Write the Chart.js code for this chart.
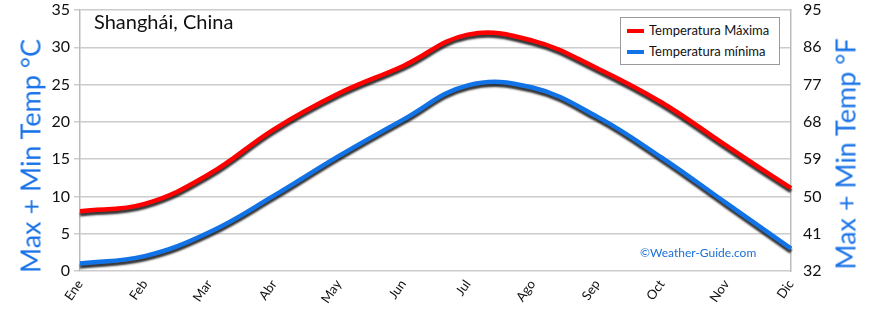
<!DOCTYPE html>
<html>
<head>
<meta charset="utf-8">
<script src="https://cdn.jsdelivr.net/npm/chart.js@4.4.0/dist/chart.umd.min.js"></script>
<style>
  body { margin: 0; background: #fff; }
  #wrap { position: relative; width: 870px; height: 312px; font-family: Lato, "Open Sans", sans-serif; }
  #titulo { position: absolute; left: 94px; top: 9px; font-size: 20px; color: #111; }
  #leyenda { position: absolute; left: 620px; top: 17px; width: 158px; height: 46px; border: 1px solid #999; background: #fff; font-size: 13px; color: #111; }
  #leyenda div { position: absolute; left: 6px; white-space: nowrap; }
  #leyenda span.linea { display: inline-block; width: 17px; height: 4px; margin-right: 5px; vertical-align: middle; position: relative; top: -1px; }
  #marca { position: absolute; left: 640px; top: 245px; font-size: 12px; color: #1a6fd8; }
  .ejeTit { position: absolute; font-size: 27px; color: #1a73e8; white-space: nowrap; transform: translate(-50%, -50%) rotate(-90deg); }
</style>
</head>
<body>
<div id="wrap">
  <canvas id="grafico" width="870" height="312"></canvas>
  <div id="titulo">Shanghái, China</div>
  <div id="leyenda">
    <div style="top:4px"><span class="linea" style="background:#ff0000"></span>Temperatura Máxima</div>
    <div style="top:25px"><span class="linea" style="background:#1273e6"></span>Temperatura mínima</div>
  </div>
  <div id="marca">©Weather-Guide.com</div>
  <div class="ejeTit" style="left:30px; top:156px">Max + Min Temp °C</div>
  <div class="ejeTit" style="left:845px; top:154px">Max + Min Temp °F</div>
</div>
<script>
const meses = ['Ene', 'Feb', 'Mar', 'Abr', 'May', 'Jun', 'Jul', 'Ago', 'Sep', 'Oct', 'Nov', 'Dic'];
const tempMax = [8.0, 9.0, 13.0, 19.0, 23.8, 27.5, 31.7, 30.9, 27.2, 22.6, 16.8, 11.1];
const tempMin = [1.0, 2.0, 5.2, 10.1, 15.4, 20.3, 24.9, 24.6, 20.7, 15.2, 9.1, 3.0];
const ticksC = [0, 5, 10, 15, 20, 25, 30, 35];
const ticksF = [32, 41, 50, 59, 68, 77, 86, 95];

// sombra oscura bajo cada línea
const sombra = {
    id: 'sombra',
    beforeDatasetDraw(chart) {
        const ctx = chart.ctx;
        ctx.save();
        ctx.shadowColor = 'rgba(0,0,0,0.8)';
        ctx.shadowBlur = 2;
        ctx.shadowOffsetX = 0;
        ctx.shadowOffsetY = 3;
    },
    afterDatasetDraw(chart) {
        chart.ctx.restore();
    }
};

// ancho fijo de eje y sin relleno vertical automático
const ajustarEje = ancho => s => {
    s.width = ancho;
    s.paddingTop = 0;
    s.paddingBottom = 0;
};

const ctx = document.getElementById('grafico').getContext('2d');
new Chart(ctx, {
    type: 'line',
    data: {
        labels: meses,
        datasets: [
            { label: 'Temperatura Máxima', data: tempMax, borderColor: '#ff0000', borderWidth: 4.5, pointRadius: 0, tension: 0.4, fill: false },
            { label: 'Temperatura mínima', data: tempMin, borderColor: '#1273e6', borderWidth: 4.5, pointRadius: 0, tension: 0.4, fill: false }
        ]
    },
    options: {
        responsive: false,
        animation: false,
        layout: { padding: { top: 10 } },
        plugins: { legend: { display: false }, tooltip: { enabled: false } },
        scales: {
            x: {
                offset: false,
                grid: { display: false, drawTicks: false },
                border: { display: false },
                ticks: {
                    color: '#111', font: { family: 'Lato', size: 13 },
                    maxRotation: 55, minRotation: 55, padding: 6
                },
                afterFit: s => { s.height = 41; }
            },
            y: {
                position: 'left',
                min: 0, max: 35,
                afterBuildTicks: s => { s.ticks = ticksC.map(v => ({ value: v })); },
                grid: { color: '#cccccc', lineWidth: 1.5, drawTicks: true, tickLength: 6 },
                border: { color: '#bbbbbb', width: 1.5 },
                ticks: { color: '#111', font: { family: 'Lato', size: 16 }, padding: 4 },
                afterFit: ajustarEje(80)
            },
            y2: {
                position: 'right',
                min: 32, max: 95,
                afterBuildTicks: s => { s.ticks = ticksF.map(v => ({ value: v })); },
                grid: { display: false, drawTicks: true, tickLength: 6 },
                border: { color: '#bbbbbb', width: 1.5 },
                ticks: { color: '#111', font: { family: 'Lato', size: 16 }, padding: 6 },
                afterFit: ajustarEje(79)
            }
        }
    },
    plugins: [sombra]
});
</script>
</body>
</html>
